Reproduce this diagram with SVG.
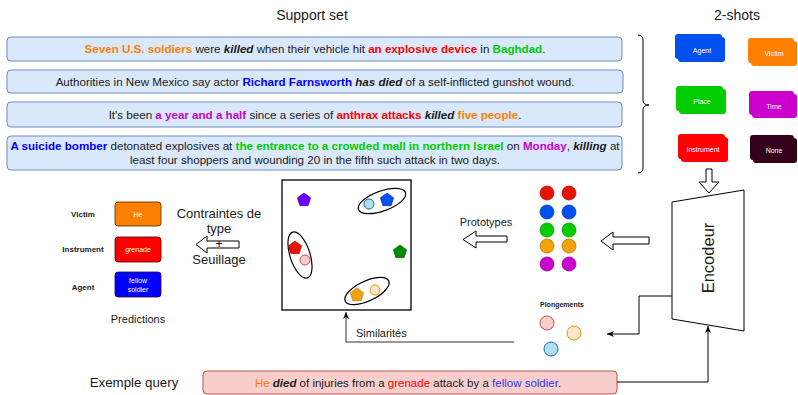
<svg xmlns="http://www.w3.org/2000/svg" width="798" height="395" viewBox="0 0 798 395">
<style>
text{font-family:"Liberation Sans",Arial,sans-serif;fill:#1a1a1a}
.sup{fill:#dae8fc;stroke:#6c8ebf;stroke-width:1}
.s11{font-size:11.6px}
.b{font-weight:bold}
.bi{font-weight:bold;font-style:italic}
.title{font-size:14px}
.card{font-size:7px;fill:#ffffff;text-anchor:middle}
.plab{font-size:8px;font-weight:bold;text-anchor:middle}
.ptxt{font-size:7px;fill:#ffffff;text-anchor:middle}
.line{fill:none;stroke:#000;stroke-width:1}
.blk{fill:#fff;stroke:#000;stroke-width:1}
.ell{fill:none;stroke:#000;stroke-width:1.2}
</style>
<defs>
<path id="pent" d="M0,-7 L6.66,-2.16 L4.11,5.66 L-4.11,5.66 L-6.66,-2.16 Z"/>
<marker id="arr" markerWidth="8" markerHeight="8" refX="7" refY="4" orient="auto" markerUnits="userSpaceOnUse">
<path d="M0,1 L7,4 L0,7 L2,4 Z" fill="#000"/>
</marker>
</defs>

<text x="312" y="20" class="title" text-anchor="middle">Support set</text>
<text x="737" y="20" class="title" text-anchor="middle">2-shots</text>

<g id="support1">
<rect class="sup" x="7" y="37" width="615" height="24" rx="4"/>
<text x="315" y="53" class="s11" text-anchor="middle"><tspan class="b" fill="#ff8000">Seven U.S. soldiers</tspan> were <tspan class="bi">killed</tspan> when their vehicle hit <tspan class="b" fill="#ff0000">an explosive device</tspan> in <tspan class="b" fill="#00cc00">Baghdad</tspan>.</text>
</g>
<g id="support2">
<rect class="sup" x="7" y="70" width="616" height="23" rx="4"/>
<text x="315" y="85.5" class="s11" text-anchor="middle">Authorities in New Mexico say actor <tspan class="b" fill="#0000ff">Richard Farnsworth</tspan> <tspan class="bi">has died</tspan> of a self-inflicted gunshot wound.</text>
</g>
<g id="support3">
<rect class="sup" x="7" y="102" width="615" height="25" rx="4"/>
<text x="315" y="118.5" class="s11" text-anchor="middle">It's been <tspan class="b" fill="#cc00cc">a year and a half</tspan> since a series of <tspan class="b" fill="#ff0000">anthrax attacks</tspan> <tspan class="bi">killed</tspan> <tspan class="b" fill="#ff8000">five people</tspan>.</text>
</g>
<g id="support4">
<rect class="sup" x="7" y="136" width="615" height="34" rx="4"/>
<text x="315" y="150" class="s11" text-anchor="middle"><tspan class="b" fill="#0000ff">A suicide bomber</tspan> detonated explosives at <tspan class="b" fill="#00cc00">the entrance to a crowded mall in northern Israel</tspan> on <tspan class="b" fill="#cc00cc">Monday</tspan>, <tspan class="bi">killing</tspan> at</text>
<text x="315" y="164" class="s11" text-anchor="middle">least four shoppers and wounding 20 in the fifth such attack in two days.</text>
</g>

<g id="brace">
<path class="line" d="M638,35 Q643,35 643,40 L643,100 Q643,105 649,105 Q643,105 643,110 L643,168 Q643,173 638,173"/>
</g>

<g id="card-agent">
<rect x="675" y="34" width="47" height="25" rx="3" fill="#0050ef"/>
<rect x="678" y="37" width="47" height="25" rx="3" fill="#0050ef"/>
<text x="702" y="53" class="card">Agent</text>
</g>
<g id="card-victim">
<rect x="748" y="38" width="46" height="25" rx="3" fill="#ff8000"/>
<rect x="751" y="41" width="46" height="25" rx="3" fill="#ff8000"/>
<text x="774" y="56" class="card">Victim</text>
</g>
<g id="card-place">
<rect x="676" y="86" width="47" height="25" rx="3" fill="#00cc00"/>
<rect x="679" y="89" width="47" height="25" rx="3" fill="#00cc00"/>
<text x="702" y="104" class="card">Place</text>
</g>
<g id="card-time">
<rect x="749" y="91" width="45" height="24" rx="3" fill="#cc00cc"/>
<rect x="752" y="94" width="45" height="24" rx="3" fill="#cc00cc"/>
<text x="774" y="109" class="card">Time</text>
</g>
<g id="card-instrument">
<rect x="678" y="134" width="47" height="25" rx="3" fill="#ff0000"/>
<rect x="681" y="137" width="47" height="25" rx="3" fill="#ff0000"/>
<text x="703" y="152" class="card">Instrument</text>
</g>
<g id="card-none">
<rect x="750" y="135" width="44" height="25" rx="3" fill="#33001a"/>
<rect x="753" y="138" width="44" height="25" rx="3" fill="#33001a"/>
<text x="774" y="153" class="card">None</text>
</g>

<g id="encoder">
<path class="blk" d="M672,202 L744,190 L744,331 L672,319 Z"/>
<text x="0" y="0" font-size="16.5" text-anchor="middle" transform="translate(714,258) rotate(-90)">Encodeur</text>
</g>

<g id="prototypes">
<circle cx="547" cy="193" r="7" fill="#e51400" stroke="#c01000" stroke-width="0.8"/>
<circle cx="569" cy="193" r="7" fill="#e51400" stroke="#c01000" stroke-width="0.8"/>
<circle cx="547" cy="212" r="7" fill="#0050ef" stroke="#0040c0" stroke-width="0.8"/>
<circle cx="569" cy="212" r="7" fill="#0050ef" stroke="#0040c0" stroke-width="0.8"/>
<circle cx="547" cy="230" r="7" fill="#00cc00" stroke="#00a000" stroke-width="0.8"/>
<circle cx="569" cy="230" r="7" fill="#00cc00" stroke="#00a000" stroke-width="0.8"/>
<circle cx="547" cy="246" r="7" fill="#f0a30a" stroke="#bd7000" stroke-width="0.8"/>
<circle cx="569" cy="246" r="7" fill="#f0a30a" stroke="#bd7000" stroke-width="0.8"/>
<circle cx="547" cy="264" r="7" fill="#cc00cc" stroke="#a000a0" stroke-width="0.8"/>
<circle cx="569" cy="264" r="7" fill="#cc00cc" stroke="#a000a0" stroke-width="0.8"/>
</g>

<g id="plongements">
<text x="540" y="307" font-size="7" font-weight="bold">Plongements</text>
<circle cx="547" cy="323" r="7" fill="#f8cecc" stroke="#b85450" stroke-width="1"/>
<circle cx="574" cy="333" r="7" fill="#ffe6cc" stroke="#d79b00" stroke-width="1"/>
<circle cx="551" cy="349" r="7" fill="#b1ddf0" stroke="#10739e" stroke-width="1"/>
</g>

<g id="embedding-space">
<rect x="282" y="180" width="129" height="130" fill="#fff" stroke="#000" stroke-width="1.3"/>
<use href="#pent" x="304" y="200" fill="#6a00ff" stroke="#3700cc" stroke-width="0.6"/>
<ellipse class="ell" cx="382" cy="201" rx="25" ry="10" transform="rotate(-20 382 201)"/>
<circle cx="369" cy="204" r="5" fill="#b1ddf0" stroke="#10739e" stroke-width="1"/>
<use href="#pent" x="387" y="200" fill="#0050ef" stroke="#001dbc" stroke-width="0.6"/>
<ellipse class="ell" cx="300" cy="255" rx="10" ry="24" transform="rotate(-18 300 255)"/>
<use href="#pent" x="295" y="248" fill="#e51400" stroke="#b20000" stroke-width="0.6"/>
<circle cx="305" cy="260" r="5" fill="#f8cecc" stroke="#b85450" stroke-width="1"/>
<use href="#pent" x="400" y="252" fill="#008a00" stroke="#005700" stroke-width="0.6"/>
<ellipse class="ell" cx="367" cy="291" rx="24" ry="10" transform="rotate(-25 367 291)"/>
<use href="#pent" x="357" y="295" fill="#f0a30a" stroke="#bd7000" stroke-width="0.6"/>
<circle cx="375" cy="290" r="5" fill="#ffe6cc" stroke="#d79b00" stroke-width="1"/>
</g>

<g id="predictions">
<text x="83" y="217" class="plab">Victim</text>
<text x="83" y="252" class="plab">Instrument</text>
<text x="83" y="290" class="plab">Agent</text>
<rect x="115" y="202" width="46" height="24" rx="3" fill="#ff8000" stroke="#4d2600" stroke-width="0.8"/>
<text x="138" y="217" class="ptxt">He</text>
<rect x="115" y="237" width="46" height="25" rx="3" fill="#ff0000" stroke="#4d0000" stroke-width="0.8"/>
<text x="138" y="252" class="ptxt">grenade</text>
<rect x="115" y="272" width="46" height="25" rx="3" fill="#0000ff" stroke="#330033" stroke-width="0.8"/>
<text x="138" y="282.5" class="ptxt">fellow</text>
<text x="138" y="292" class="ptxt">soldier</text>
<text x="138" y="323" font-size="11" text-anchor="middle">Predictions</text>
</g>

<g id="labels">
<text x="486" y="226" font-size="11" text-anchor="middle">Prototypes</text>
<text x="134" y="386.5" font-size="13.3" text-anchor="middle">Exemple query</text>
</g>

<g id="query">
<rect x="203" y="371" width="414" height="23" rx="4" fill="#f8cecc" stroke="#b85450" stroke-width="1"/>
<text x="408" y="386.5" font-size="11.5" text-anchor="middle"><tspan fill="#ff8000">He</tspan> <tspan class="bi">died</tspan> of injuries from a <tspan fill="#ff0000">grenade</tspan> attack by a <tspan fill="#3333ff">fellow soldier</tspan>.</text>
</g>

<g id="connectors">
<path class="blk" d="M706,169 L712,169 L712,182 L719,182 L709,193 L699,182 L706,182 Z"/>
<path class="blk" d="M649,237 L613,237 L613,232 L601,241 L613,250 L613,244 L649,244 Z"/>
<path class="blk" d="M507,236 L476,236 L476,231 L463,239.5 L476,248 L476,242 L507,242 Z"/>
<path class="blk" d="M239,241 L207,241 L207,236 L196,244.5 L207,253 L207,248 L239,248 Z"/>
<polyline class="line" points="672,296 639,296 639,334 607,334" marker-end="url(#arr)"/>
<polyline class="line" points="617,382 708,382 708,326" marker-end="url(#arr)"/>
<polyline points="514,342 346,342 346,312" fill="none" stroke="#333" stroke-width="1" marker-end="url(#arr)"/>
<text x="356" y="337" font-size="11">Similarités</text>
</g>

<g id="constraints">
<text x="219" y="218" font-size="13" text-anchor="middle">Contraintes de</text>
<text x="219" y="233" font-size="13" text-anchor="middle">type</text>
<text x="219" y="248" font-size="13" text-anchor="middle">+</text>
<text x="219" y="264" font-size="13" text-anchor="middle">Seuillage</text>
</g>
</svg>
